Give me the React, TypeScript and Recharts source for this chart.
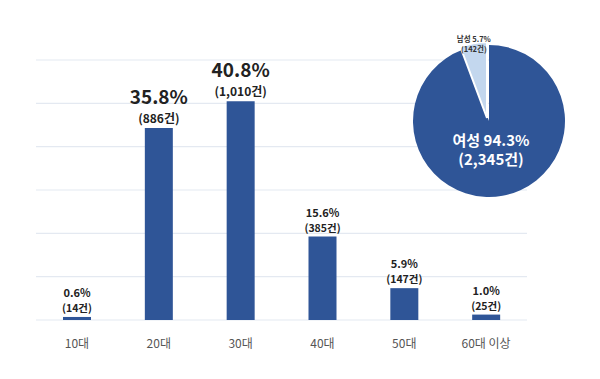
import React from "react";
import { BarChart, Bar, XAxis, YAxis, CartesianGrid, LabelList, PieChart, Pie, Cell } from "recharts";

const categories = ["10대", "20대", "30대", "40대", "50대", "60대 이상"];
const percents = [0.6, 35.8, 40.8, 15.6, 5.9, 1.0];
const counts = [14, 886, 1010, 385, 147, 25];
const yTicks = [0, 200, 400, 600, 800, 1000, 1200];

const genders = ["여성", "남성"];
const genderPercents = [94.3, 5.7];
const genderCounts = [2345, 142];

const barData = categories.map((c, i) => ({ name: c, count: counts[i], pct: percents[i] }));
const pieData = genders.map((g, i) => ({ name: g, value: genderPercents[i], count: genderCounts[i] }));

const FONT = "'Noto Sans CJK KR', 'Noto Sans', sans-serif";
const BLUE = "#2f5597";
const LIGHT = "#c3d7ee";

const fmt = (n: number) => n.toLocaleString("en-US");

const BarLabel = (props: any) => {
  const { x, y, width, index } = props;
  const pct = percents[index];
  const cnt = counts[index];
  const big = pct >= 30;
  const cx = x + width / 2;
  return (
    <g fontFamily={FONT} fontWeight="bold" fill="#222" textAnchor="middle">
      <text x={cx} y={y - (big ? 24 : 20)} fontSize={big ? 19 : 11}>
        {pct.toFixed(1)}%
      </text>
      <text x={cx} y={y - 5} fontSize={big ? 12 : 10.5}>
        ({fmt(cnt)}건)
      </text>
    </g>
  );
};

const FemaleLabel = (props: any) => {
  const { cx, cy, index } = props;
  if (index !== 0) return null;
  return (
    <g fontFamily={FONT} fontWeight="bold" fill="#fff" textAnchor="middle">
      <text x={cx + 2} y={cy + 25} fontSize={15}>
        {genders[0]} {genderPercents[0]}%
      </text>
      <text x={cx + 2} y={cy + 44} fontSize={15}>
        ({fmt(genderCounts[0])}건)
      </text>
    </g>
  );
};

const MaleLabel = (props: any) => {
  const { cx, cy, midAngle, outerRadius, index } = props;
  if (index !== 1) return null;
  const rad = (Math.PI / 180) * midAngle;
  const lx = cx + Math.cos(rad) * (outerRadius - 2);
  const ly = cy - Math.sin(rad) * (outerRadius + 1);
  return (
    <g fontFamily={FONT} fontWeight="bold" fill="#333" textAnchor="middle">
      <text x={lx} y={ly} fontSize={7.5}>
        {genders[1]} {genderPercents[1]}%
      </text>
      <text x={lx} y={ly + 10} fontSize={7.5}>
        ({fmt(genderCounts[1])}건)
      </text>
    </g>
  );
};

export default function App() {
  return (
    <div style={{ position: "absolute", left: 0, top: 0, width: 600, height: 379, background: "#fff" }}>
      <div style={{ position: "absolute", left: 0, top: 0 }}>
        <BarChart width={600} height={379} data={barData} margin={{ top: 60, right: 73, bottom: 29, left: 36 }} barCategoryGap={27}>
          <CartesianGrid vertical={false} stroke="#e4e9f1" strokeWidth={1.2} />
          <YAxis hide domain={[0, 1200]} ticks={yTicks} />
          <XAxis
            dataKey="name"
            axisLine={false}
            tickLine={false}
            height={30}
            tick={{ fontFamily: FONT, fontSize: 12, fill: "#555" }}
            tickMargin={13}
          />
          <Bar dataKey="count" fill={BLUE} isAnimationActive={false}>
            <LabelList dataKey="count" content={BarLabel} />
          </Bar>
        </BarChart>
      </div>
      <div style={{ position: "absolute", left: 0, top: 0 }}>
        <PieChart width={600} height={379}>
          <Pie
            data={pieData}
            dataKey="value"
            cx={484}
            cy={116}
            outerRadius={76}
            startAngle={90}
            endAngle={-270}
            stroke="none"
            isAnimationActive={false}
            label={FemaleLabel}
            labelLine={false}
          >
            <Cell fill={BLUE} />
            <Cell fill="none" />
          </Pie>
          <Pie
            data={pieData}
            dataKey="value"
            cx={482}
            cy={113}
            outerRadius={76}
            startAngle={90}
            endAngle={-270}
            isAnimationActive={false}
            label={MaleLabel}
            labelLine={false}
          >
            <Cell fill="none" stroke="none" />
            <Cell fill={LIGHT} stroke="#fff" strokeWidth={2} />
          </Pie>
        </PieChart>
      </div>
    </div>
  );
}
